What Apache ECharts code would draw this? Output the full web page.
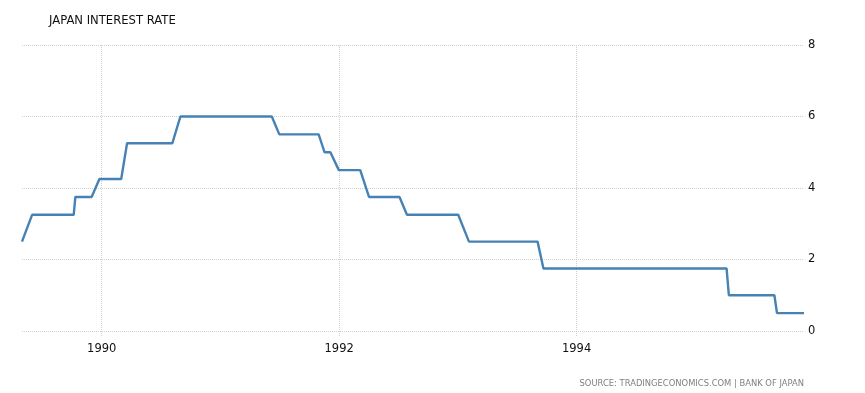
<!DOCTYPE html>
<html>
<head>
<meta charset="utf-8">
<script src="https://cdn.jsdelivr.net/npm/echarts@6/dist/echarts.min.js"></script>
<style>
html,body{margin:0;padding:0;background:#fff;}
#chart{width:865px;height:393px;}
</style>
</head>
<body>
<div id="chart"></div>
<script>
const dates = [
  '1989-05-01','1989-06-01','1989-10-07','1989-10-12','1989-12-01','1989-12-25',
  '1990-03-02','1990-03-20','1990-08-06','1990-08-31',
  '1991-06-08','1991-07-01','1991-10-30','1991-11-17','1991-12-05','1991-12-31',
  '1992-03-06','1992-04-02','1992-07-05','1992-07-28',
  '1993-01-02','1993-02-04','1993-09-03','1993-09-21',
  '1995-04-07','1995-04-14','1995-09-01','1995-09-09','1995-12-01'
];
const rates = [
  2.5,3.25,3.25,3.75,3.75,4.25,
  4.25,5.25,5.25,6.0,
  6.0,5.5,5.5,5.0,5.0,4.5,
  4.5,3.75,3.75,3.25,
  3.25,2.5,2.5,1.75,
  1.75,1.0,1.0,0.5,0.5
];
const xTickYears = [1990, 1992, 1994];
const yTicks = [0,2,4,6,8];
const title = 'JAPAN INTEREST RATE';
const source = 'SOURCE: TRADINGECONOMICS.COM | BANK OF JAPAN';

// date string -> fractional year
function toYear(s) {
  const t = Date.parse(s + 'T00:00:00Z');
  const y = new Date(t).getUTCFullYear();
  const a = Date.UTC(y, 0, 1), b = Date.UTC(y + 1, 0, 1);
  return y + (t - a) / (b - a);
}
const xs = dates.map(toYear);

const chart = echarts.init(document.getElementById('chart'), null, {renderer:'canvas'});
chart.setOption({
  animation: false,
  backgroundColor: '#fff',
  title: [{
    text: title, left: 44, top: 10,
    textStyle: {fontFamily: 'DejaVu Sans', fontSize: 11.6, fontWeight: 'normal', color: '#111'}
  }, {
    text: source, right: 56, top: 375,
    textStyle: {fontFamily: 'DejaVu Sans', fontSize: 8.4, fontWeight: 'normal', color: '#808080'}
  }],
  grid: {left: 22, right: 61, top: 45, bottom: 62, containLabel: false},
  xAxis: {
    type: 'value',
    min: xs[0],
    max: xs[xs.length-1],
    axisLine: {show: false},
    axisTick: {show: true, customValues: xTickYears, length: 5, lineStyle: {color: '#cfcfcf', type: 'dotted'}},
    axisLabel: {
      customValues: xTickYears,
      formatter: v => String(Math.round(v)),
      fontFamily: 'DejaVu Sans', fontSize: 11.5, color: '#111', margin: 12
    },
    splitLine: {show: true, lineStyle: {color: '#cfcfcf', type: 'dotted', width: 1}}
  },
  yAxis: {
    type: 'value',
    position: 'right',
    min: yTicks[0], max: yTicks[yTicks.length-1], interval: 2,
    axisLine: {show: false},
    axisTick: {show: false},
    axisLabel: {fontFamily: 'DejaVu Sans', fontSize: 11.5, color: '#111', margin: 4, padding: [3, 0, 0, 0]},
    splitLine: {show: true, lineStyle: {color: '#cfcfcf', type: 'dotted', width: 1}}
  },
  series: [{
    type: 'line',
    data: xs.map((x, i) => [x, rates[i]]),
    showSymbol: false,
    lineStyle: {color: '#4682b4', width: 2.4},
    itemStyle: {color: '#4682b4'}
  }]
});
</script>
</body>
</html>
